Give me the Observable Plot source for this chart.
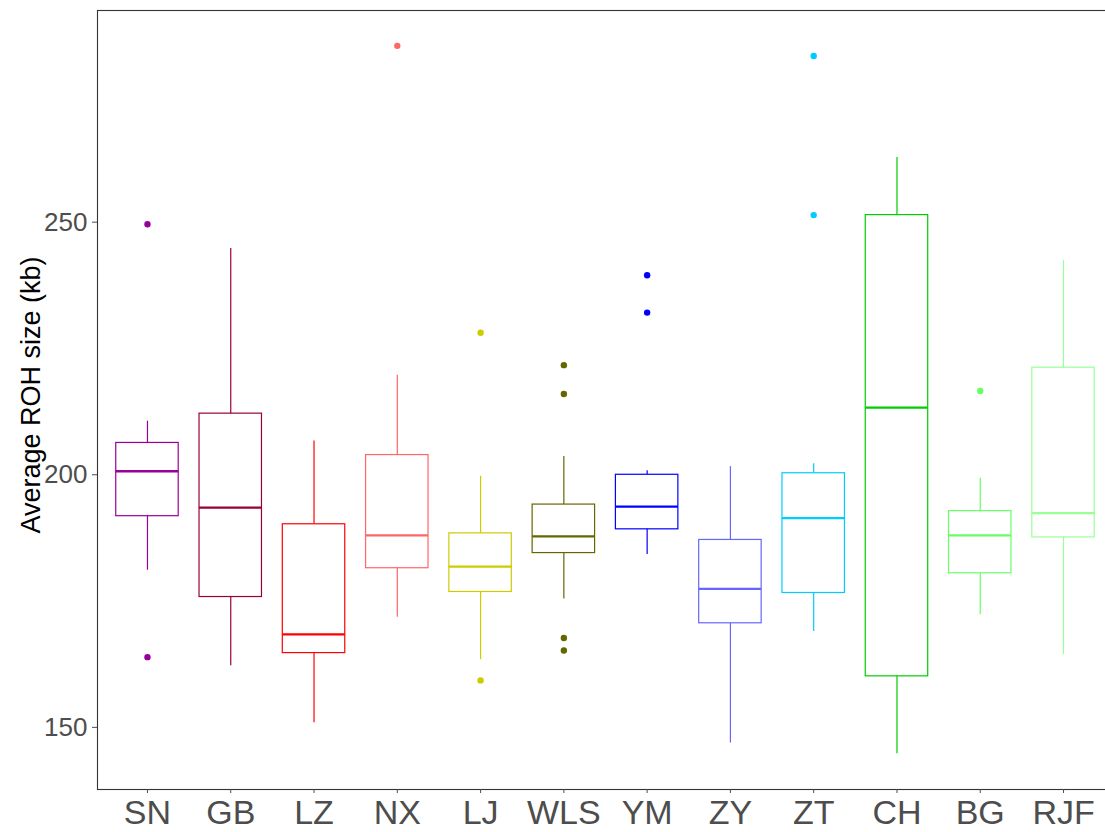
<!DOCTYPE html>
<html>
<head>
<meta charset="utf-8">
<script src="https://cdn.jsdelivr.net/npm/d3@7"></script>
<script src="https://cdn.jsdelivr.net/npm/@observablehq/plot@0.6"></script>
<style>
  html, body { margin: 0; padding: 0; background: #fff; overflow: hidden; }
  #chart { width: 1105px; height: 832px; overflow: hidden; }
</style>
</head>
<body>
<div id="chart"></div>
<script>
const categories = ["SN","GB","LZ","NX","LJ","WLS","YM","ZY","ZT","CH","BG","RJF"];
const colors = ["#990099","#990033","#FF0000","#FF6666","#CCCC00","#666600","#0000FF","#6666FF","#00CCFF","#00CC00","#66FF66","#99FF99"];
const whiskerLow  = [181.1,162.2,150.9,171.8,163.4,175.4,184.2,146.9,169.0,144.8,172.3,164.4];
const q1          = [191.8,175.8,164.7,181.5,176.8,184.5,189.2,170.6,176.6,160.1,180.5,187.6];
const median      = [200.7,193.5,168.4,188.0,181.8,187.8,193.7,177.4,191.4,213.3,188.0,192.4];
const q3          = [206.3,212.1,190.2,203.9,188.4,194.1,200.0,187.1,200.3,251.4,192.8,221.2];
const whiskerHigh = [210.6,244.8,206.7,219.7,199.7,203.6,200.8,201.6,202.2,262.8,199.3,242.4];
const outlierCat  = ["SN","SN","NX","LJ","LJ","WLS","WLS","WLS","WLS","YM","YM","ZT","ZT","BG"];
const outlierVal  = [249.6,163.9,284.9,228.1,159.3,221.7,216.0,167.7,165.2,239.5,232.1,282.9,251.4,216.6];
const yTicks = [150, 200, 250];
const yTitle = "Average ROH size (kb)";

const boxes = categories.map((c, i) => ({
  cat: c, color: colors[i], lo: whiskerLow[i], q1: q1[i], med: median[i], q3: q3[i], hi: whiskerHigh[i]
}));
const colorOf = Object.fromEntries(categories.map((c, i) => [c, colors[i]]));
const outliers = outlierCat.map((c, i) => ({cat: c, v: outlierVal[i], color: colorOf[c]}));

const chart = Plot.plot({
  width: 1120,
  height: 832,
  marginLeft: 97,
  marginRight: 7,
  marginTop: 10,
  marginBottom: 43,
  style: {background: "white", fontFamily: "'Liberation Sans', Arial, sans-serif", maxWidth: "none"},
  x: {type: "band", domain: categories, paddingInner: 0.25, paddingOuter: 0.225, align: 0.5, round: false},
  y: {domain: [137.7, 291.9]},
  color: {type: "identity"},
  marks: [
    Plot.frame({stroke: "#333333", strokeWidth: 1.1}),
    Plot.ruleX(boxes, {x: "cat", y1: "lo", y2: "q1", stroke: "color", strokeWidth: 1.2}),
    Plot.ruleX(boxes, {x: "cat", y1: "q3", y2: "hi", stroke: "color", strokeWidth: 1.2}),
    Plot.barY(boxes, {x: "cat", y1: "q1", y2: "q3", fill: "none", stroke: "color", strokeWidth: 1.2}),
    Plot.tickY(boxes, {x: "cat", y: "med", stroke: "color", strokeWidth: 2.3}),
    Plot.dot(outliers, {x: "cat", y: "v", r: 3.2, fill: "color", stroke: "none"}),
    Plot.axisY({ticks: yTicks, tickSize: 5, tickPadding: 5, fontSize: 26, color: "#4D4D4D", label: null}),
    Plot.axisX({tickSize: 4, tickPadding: 6, fontSize: 34, color: "#4D4D4D", label: null}),
    Plot.text([yTitle], {frameAnchor: "left", textAnchor: "middle", rotate: -90, dx: -66, dy: -5, fontSize: 27, fill: "black", text: d => d})
  ]
});
document.getElementById("chart").appendChild(chart);
</script>
</body>
</html>
